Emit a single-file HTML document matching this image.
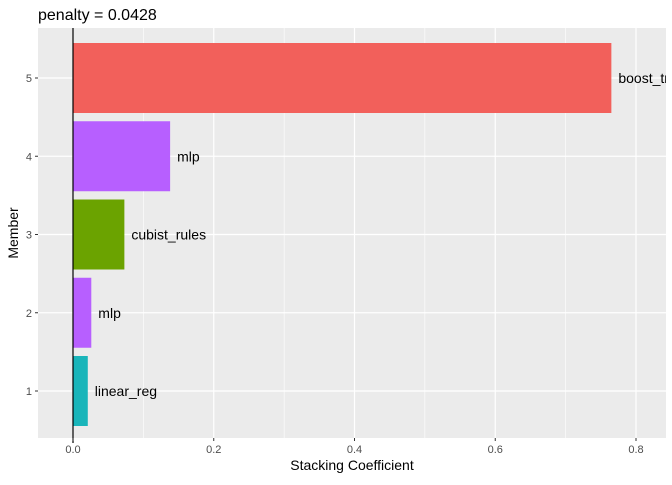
<!DOCTYPE html>
<html><head><meta charset="utf-8"><style>
body{margin:0;background:#fff;font-family:"Liberation Sans",sans-serif}
svg text{font-family:"Liberation Sans",sans-serif}
</style></head><body>
<svg id="c" width="672" height="480"><defs><clipPath id="pc"><rect x="38" y="28" width="628" height="410"/></clipPath></defs></svg>
<script>
const members=[1,2,3,4,5];
const coefs=[0.021,0.026,0.073,0.138,0.765];
const models=["linear_reg","mlp","cubist_rules","mlp","boost_tree"];
const colors=["#19B5BA","#B75FFF","#6BA300","#B75FFF","#F2605B"];
const xTicks=[0,0.2,0.4,0.6,0.8];
const xTickLabels=["0.0","0.2","0.4","0.6","0.8"];
const svg=document.getElementById('c');
const NS="http://www.w3.org/2000/svg";
const L=38,R=666,T=28,B=438;
const x=v=>73+v*703.75;
const y=v=>391-(v-1)*78.25;
function el(t,a,txt){const e=document.createElementNS(NS,t);for(const k in a)e.setAttribute(k,a[k]);if(txt!==undefined)e.textContent=txt;svg.appendChild(e);return e;}
let e=el('rect',{x:L,y:T,width:R-L,height:B-T,fill:'#EBEBEB'});

for(let v=-0.1;v<=0.85;v+=0.2){e=el('line',{x1:x(v),x2:x(v),y1:T,y2:B,stroke:'#fff','stroke-width':0.6});
}
xTicks.forEach(v=>{e=el('line',{x1:x(v),x2:x(v),y1:T,y2:B,stroke:'#fff','stroke-width':1.2});
});
members.forEach(m=>{e=el('line',{x1:L,x2:R,y1:y(m),y2:y(m),stroke:'#fff','stroke-width':1.2});
});
members.forEach((m,i)=>{const h=70;
e=el('rect',{x:x(0),y:y(m)-h/2,width:x(coefs[i])-x(0),height:h,fill:colors[i]});

e=el('text',{x:x(coefs[i])+7,y:y(m)+5,'font-size':14,fill:'#000','clip-path':'url(#pc)'},models[i]);

e=el('line',{x1:L-3,x2:L,y1:y(m),y2:y(m),stroke:'#333'});

e=el('text',{x:L-6,y:y(m)+4,'font-size':11,fill:'#4D4D4D','text-anchor':'end'},m);
});
e=el('line',{x1:x(0),x2:x(0),y1:T,y2:B+5,stroke:'#000','stroke-width':1.2});

xTicks.forEach((v,i)=>{e=el('line',{x1:x(v),x2:x(v),y1:B,y2:B+3,stroke:'#333'});

e=el('text',{x:x(v),y:B+15,'font-size':11,fill:'#4D4D4D','text-anchor':'middle'},xTickLabels[i]);
});
e=el('text',{x:352,y:470,'font-size':14,fill:'#000','text-anchor':'middle'},'Stacking Coefficient');

e=el('text',{x:0,y:0,'font-size':14,fill:'#000','text-anchor':'middle',transform:'translate(18,233) rotate(-90)'},'Member');

e=el('text',{x:38,y:20,'font-size':16,fill:'#000'},'penalty = 0.0428');

</script>
</body></html>
